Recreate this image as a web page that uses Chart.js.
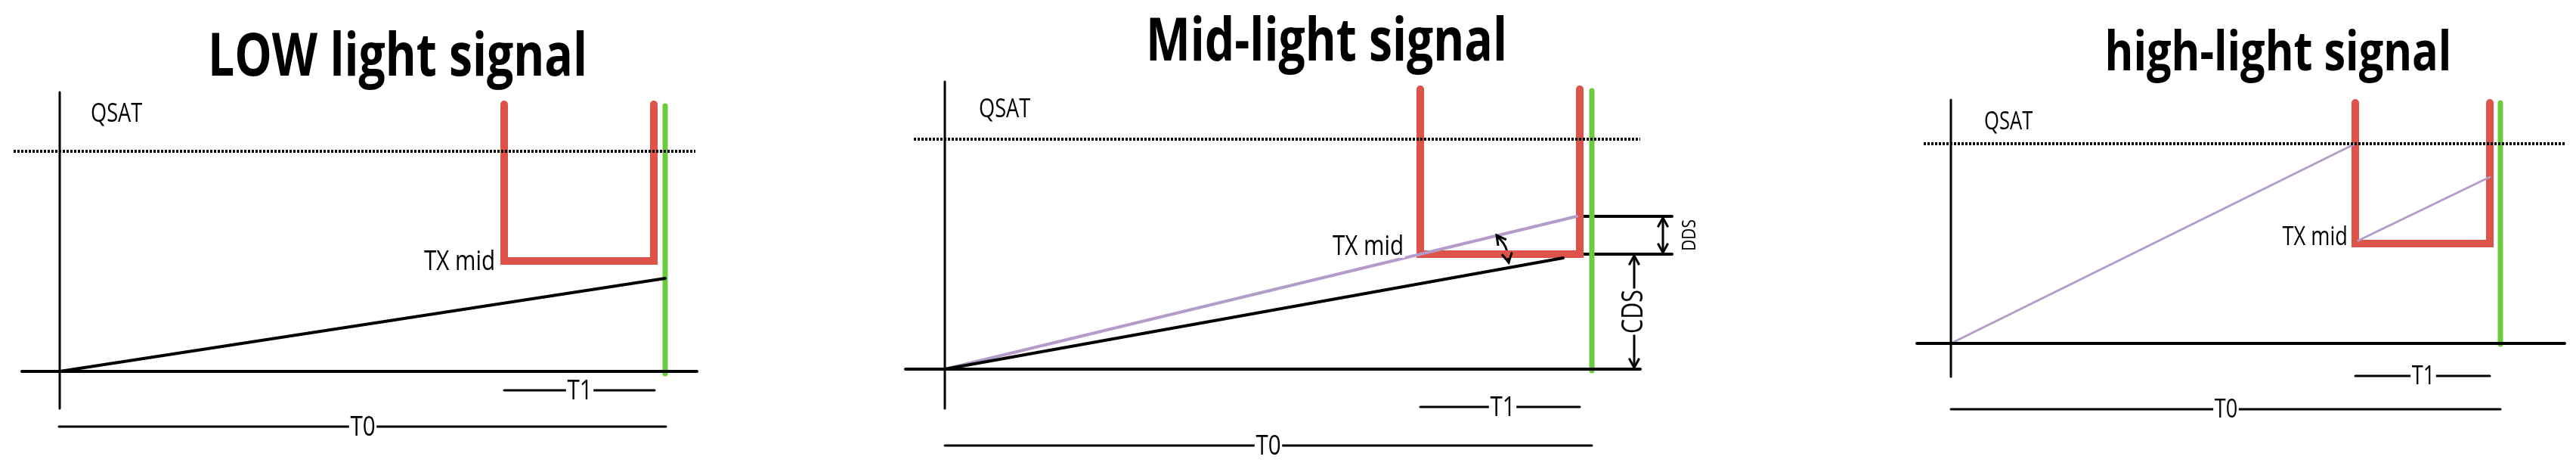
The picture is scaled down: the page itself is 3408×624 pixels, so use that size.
<!DOCTYPE html>
<html>
<head>
<meta charset="utf-8">
<script src="https://cdn.jsdelivr.net/npm/chart.js@4/dist/chart.umd.min.js"></script>
<style>
  html, body { margin: 0; padding: 0; background: #fff; }
  #wrap { width: 3408px; height: 624px; }
</style>
</head>
<body>
<div id="wrap"><canvas id="chart" width="3408" height="624"></canvas></div>
<script>
// Diagram in page units (x: 0..3408, y: 0..624 top-down)
const RED = '#dd5349';
const GREEN = '#6acb3c';
const PURPLE = '#b39cc9';

// LOW light panel
const lowAxisY = [{x: 79, y: 122}, {x: 79, y: 540}];
const lowAxisX = [{x: 29, y: 491}, {x: 922, y: 491}];
const lowQsat = [{x: 18, y: 200}, {x: 920, y: 200}];
const lowTx = [{x: 667, y: 138}, {x: 667, y: 345}, {x: 865, y: 345}, {x: 865, y: 138}];
const lowGreen = [{x: 880, y: 140}, {x: 880, y: 494}];
const lowSignal = [{x: 79, y: 491}, {x: 880, y: 368}];
const lowT1 = [{x: 667, y: 516}, {x: 866, y: 516}];
const lowT0 = [{x: 78, y: 564}, {x: 881, y: 564}];

// Mid light panel
const midAxisY = [{x: 1250, y: 108}, {x: 1250, y: 540}];
const midAxisX = [{x: 1198, y: 488}, {x: 2170, y: 488}];
const midQsat = [{x: 1209, y: 184}, {x: 2170, y: 184}];
const midTx = [{x: 1879, y: 118}, {x: 1879, y: 336}, {x: 2090, y: 336}, {x: 2090, y: 118}];
const midGreen = [{x: 2106, y: 120}, {x: 2106, y: 490}];
const midSignal = [{x: 1250, y: 488}, {x: 2068, y: 341}];
const midSignalHi = [{x: 1250, y: 488}, {x: 2086, y: 286}];
const midDdsTop = [{x: 2090, y: 286}, {x: 2212, y: 286}];
const midDdsBot = [{x: 2090, y: 336}, {x: 2212, y: 336}];
const midDdsArrow = [{x: 2200, y: 288}, {x: 2200, y: 334}];
const midCdsArrow = [{x: 2162, y: 338}, {x: 2162, y: 486}];
const midAngle = [{x: 1980, y: 311}, {x: 1992, y: 327}, {x: 1996, y: 347}];
const midT1 = [{x: 1879, y: 538}, {x: 2090, y: 538}];
const midT0 = [{x: 1250, y: 589}, {x: 2106, y: 589}];

// High light panel
const highAxisY = [{x: 2581, y: 132}, {x: 2581, y: 498}];
const highAxisX = [{x: 2536, y: 454}, {x: 3393, y: 454}];
const highQsat = [{x: 2545, y: 190}, {x: 3393, y: 190}];
const highTx = [{x: 3116, y: 136}, {x: 3116, y: 322}, {x: 3294, y: 322}, {x: 3294, y: 136}];
const highGreen = [{x: 3308, y: 136}, {x: 3308, y: 455}];
const highSignal = [{x: 2581, y: 454}, {x: 3116, y: 190}];
const highSignal2 = [{x: 3120, y: 318}, {x: 3294, y: 234}];
const highT1 = [{x: 3116, y: 497}, {x: 3294, y: 497}];
const highT0 = [{x: 2581, y: 541}, {x: 3308, y: 541}];

// Text labels: [text, x, y, align, size, bold, rotation]
const labels = [
  ['LOW light signal', 526, 78, 'center', 78, true, 0],
  ['QSAT', 120, 151, 'left', 34, false, 0],
  ['TX mid', 655, 346, 'right', 37, false, 0],
  ['T1', 767, 517, 'center', 37, false, 0],
  ['T0', 480, 565, 'center', 37, false, 0],
  ['Mid-light signal', 1755, 58, 'center', 78, true, 0],
  ['QSAT', 1295, 145, 'left', 34, false, 0],
  ['TX mid', 1857, 326, 'right', 37, false, 0],
  ['T1', 1988, 539, 'center', 37, false, 0],
  ['T0', 1678, 590, 'center', 37, false, 0],
  ['DDS', 2236, 311, 'center', 26, false, -Math.PI / 2],
  ['CDS', 2162, 412, 'center', 38, false, -Math.PI / 2],
  ['high-light signal', 3014, 72, 'center', 72, true, 0],
  ['QSAT', 2625, 162, 'left', 32, false, 0],
  ['TX mid', 3106, 314, 'right', 34, false, 0],
  ['T1', 3206, 498, 'center', 34, false, 0],
  ['T0', 2945, 542, 'center', 34, false, 0]
];

function seg(data, color, width, extra) {
  return Object.assign({
    data, showLine: true, borderColor: color, borderWidth: width,
    pointRadius: 0, fill: false, borderCapStyle: 'round', borderJoinStyle: 'miter'
  }, extra || {});
}

const dotted = {borderDash: [3, 2], borderCapStyle: 'butt'};

const datasets = [
  seg(lowAxisY, '#000', 3), seg(lowAxisX, '#000', 4),
  seg(lowQsat, '#000', 4, dotted),
  seg(lowSignal, '#000', 4), seg(lowTx, RED, 10), seg(lowGreen, GREEN, 7),
  seg(lowT1, '#000', 3), seg(lowT0, '#000', 3),

  seg(midAxisY, '#000', 3), seg(midAxisX, '#000', 4),
  seg(midQsat, '#000', 4, dotted),
  seg(midSignal, '#000', 4), seg(midSignalHi, PURPLE, 4),
  seg(midTx, RED, 10), seg(midGreen, GREEN, 7),
  seg(midDdsTop, '#000', 4), seg(midDdsBot, '#000', 4),
  seg(midDdsArrow, '#000', 3, {arrows: true}),
  seg(midCdsArrow, '#000', 3, {arrows: true}),
  seg(midAngle, '#000', 3, {arrows: true, tension: 0.5}),
  seg(midT1, '#000', 3), seg(midT0, '#000', 3),

  seg(highAxisY, '#000', 3), seg(highAxisX, '#000', 4),
  seg(highQsat, '#000', 4, dotted),
  seg(highSignal, PURPLE, 3), seg(highSignal2, PURPLE, 3),
  seg(highTx, RED, 10), seg(highGreen, GREEN, 7),
  seg(highT1, '#000', 3), seg(highT0, '#000', 3)
];

// arrowheads + text, drawn through the chart scales
const annotate = {
  id: 'annotate',
  afterDatasetsDraw(chart) {
    const {ctx, scales: {x, y}} = chart;
    ctx.save();
    chart.data.datasets.forEach(ds => {
      if (!ds.arrows) return;
      const p = ds.data;
      const ends = [[p[1], p[0]], [p[p.length - 2], p[p.length - 1]]];
      ends.forEach(([a, b]) => {
        const bx = x.getPixelForValue(b.x), by = y.getPixelForValue(b.y);
        const ang = Math.atan2(by - y.getPixelForValue(a.y), bx - x.getPixelForValue(a.x));
        ctx.strokeStyle = '#000';
        ctx.lineWidth = 3;
        ctx.beginPath();
        ctx.moveTo(bx - 14 * Math.cos(ang - 0.5), by - 14 * Math.sin(ang - 0.5));
        ctx.lineTo(bx, by);
        ctx.lineTo(bx - 14 * Math.cos(ang + 0.5), by - 14 * Math.sin(ang + 0.5));
        ctx.stroke();
      });
    });
    labels.forEach(([t, lx, ly, align, size, bold, rot]) => {
      const px = x.getPixelForValue(lx), py = y.getPixelForValue(ly);
      ctx.save();
      ctx.translate(px, py);
      ctx.rotate(rot);
      ctx.scale(0.8, 1); // narrow the face, like the original's condensed type
      ctx.font = (bold ? 'bold ' : '') + size + 'px "Open Sans", "Liberation Sans", sans-serif';
      ctx.textAlign = align;
      ctx.textBaseline = 'middle';
      if (!bold) {
        // white gap behind labels sitting on lines
        const w = ctx.measureText(t).width;
        const x0 = align === 'center' ? -w / 2 : align === 'right' ? -w : 0;
        ctx.fillStyle = '#fff';
        ctx.fillRect(x0 - 2, -size * 0.4, w + 4, size * 0.8);
      }
      ctx.fillStyle = '#000';
      ctx.fillText(t, 0, 0);
      ctx.restore();
    });
    ctx.restore();
  }
};

new Chart(document.getElementById('chart').getContext('2d'), {
  type: 'scatter',
  data: { datasets },
  options: {
    responsive: false,
    animation: false,
    devicePixelRatio: 1,
    layout: { padding: 0 },
    plugins: { legend: { display: false }, tooltip: { enabled: false } },
    scales: {
      x: { type: 'linear', min: 0, max: 3408, display: false },
      y: { type: 'linear', min: 0, max: 624, reverse: true, display: false }
    }
  },
  plugins: [annotate]
});
</script>
</body>
</html>
